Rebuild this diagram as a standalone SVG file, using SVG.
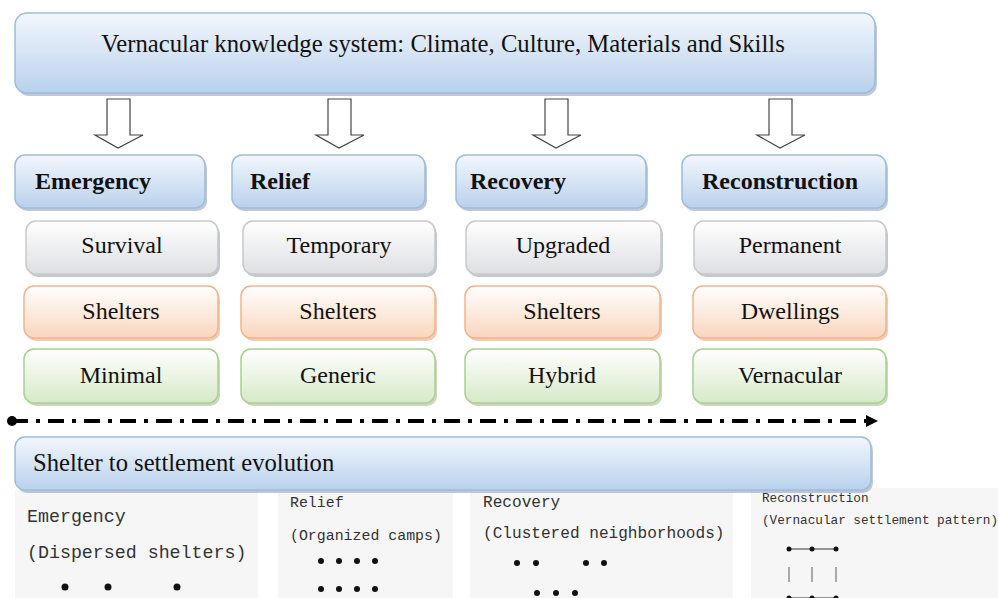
<svg xmlns="http://www.w3.org/2000/svg" width="998" height="598" viewBox="0 0 998 598">
<defs>
<linearGradient id="gBlue" x1="0" y1="0" x2="0" y2="1">
<stop offset="0" stop-color="#f3f7fc"/><stop offset="1" stop-color="#b9d1ec"/>
</linearGradient>
<linearGradient id="gGray" x1="0" y1="0" x2="0" y2="1">
<stop offset="0" stop-color="#ffffff"/><stop offset="1" stop-color="#dedfe2"/>
</linearGradient>
<linearGradient id="gOrange" x1="0" y1="0" x2="0" y2="1">
<stop offset="0" stop-color="#ffffff"/><stop offset="1" stop-color="#fad6bd"/>
</linearGradient>
<linearGradient id="gGreen" x1="0" y1="0" x2="0" y2="1">
<stop offset="0" stop-color="#ffffff"/><stop offset="1" stop-color="#d7e9c8"/>
</linearGradient>
<marker id="arrowEnd" markerWidth="12" markerHeight="12" refX="10" refY="6" orient="auto" markerUnits="userSpaceOnUse">
<path d="M0,0 L12,6 L0,12 Z" fill="#000"/>
</marker>
</defs>
<style>
.serif{font-family:"Liberation Serif","Times New Roman",serif;font-size:24px;fill:#111}
.bold{font-weight:bold}
.mono{font-family:"Liberation Mono","DejaVu Sans Mono",monospace;fill:#333}
.shadow{fill:#8a9bb0;opacity:0.55}
.blue{fill:url(#gBlue);stroke:#9dbcdc;stroke-width:1.5}
.gray{fill:url(#gGray);stroke:#c9c9c9;stroke-width:1.5}
.orange{fill:url(#gOrange);stroke:#f2b48a;stroke-width:1.5}
.green{fill:url(#gGreen);stroke:#a9cf90;stroke-width:1.5}
.barrow{fill:#fff;stroke:#444;stroke-width:1.2}
.panel{fill:#f6f6f6}
.dot{fill:#111}
</style>
<rect width="998" height="598" fill="#fff"/>

<g id="top">
<rect class="shadow" x="17" y="16" width="860" height="80" rx="12"/>
<rect class="blue" x="15" y="13" width="860" height="80" rx="12"/>
<text class="serif" x="443" y="52" text-anchor="middle" style="font-size:24.7px">Vernacular knowledge system: Climate, Culture, Materials and Skills</text>
</g>

<g id="connectors">
<path class="barrow" d="M107,99 H130 V135 H143 L118,148 L95,135 H107 Z"/>
<path class="barrow" d="M328,99 H351 V135 H364 L339,148 L316,135 H328 Z"/>
<path class="barrow" d="M545,99 H568 V135 H581 L556,148 L533,135 H545 Z"/>
<path class="barrow" d="M769,99 H792 V135 H805 L780,148 L757,135 H769 Z"/>
<circle cx="12" cy="421" r="5" fill="#000"/>
<line x1="12" y1="421" x2="876" y2="421" stroke="#000" stroke-width="4" stroke-dasharray="16 8 4 8" marker-end="url(#arrowEnd)"/>
</g>

<g id="h-emergency">
<rect class="shadow" x="17" y="158" width="190" height="53" rx="10"/>
<rect class="blue" x="15" y="155" width="190" height="53" rx="10"/>
<text class="serif bold" x="35" y="189">Emergency</text>
</g>
<g id="h-relief">
<rect class="shadow" x="234" y="158" width="193" height="53" rx="10"/>
<rect class="blue" x="232" y="155" width="193" height="53" rx="10"/>
<text class="serif bold" x="250" y="189">Relief</text>
</g>
<g id="h-recovery">
<rect class="shadow" x="458" y="158" width="190" height="53" rx="10"/>
<rect class="blue" x="456" y="155" width="190" height="53" rx="10"/>
<text class="serif bold" x="470" y="189">Recovery</text>
</g>
<g id="h-reconstruction">
<rect class="shadow" x="684" y="158" width="204" height="53" rx="10"/>
<rect class="blue" x="682" y="155" width="204" height="53" rx="10"/>
<text class="serif bold" x="702" y="189">Reconstruction</text>
</g>

<g id="r1-survival">
<rect class="shadow" x="28" y="224" width="192" height="53" rx="10"/>
<rect class="gray" x="26" y="221" width="192" height="53" rx="10"/>
<text class="serif" x="122" y="253" text-anchor="middle">Survival</text>
</g>
<g id="r1-temporary">
<rect class="shadow" x="245" y="224" width="192" height="53" rx="10"/>
<rect class="gray" x="243" y="221" width="192" height="53" rx="10"/>
<text class="serif" x="339" y="253" text-anchor="middle">Temporary</text>
</g>
<g id="r1-upgraded">
<rect class="shadow" x="468" y="224" width="195" height="53" rx="10"/>
<rect class="gray" x="466" y="221" width="195" height="53" rx="10"/>
<text class="serif" x="563" y="253" text-anchor="middle">Upgraded</text>
</g>
<g id="r1-permanent">
<rect class="shadow" x="696" y="224" width="192" height="53" rx="10"/>
<rect class="gray" x="694" y="221" width="192" height="53" rx="10"/>
<text class="serif" x="790" y="253" text-anchor="middle">Permanent</text>
</g>

<g id="r2-shelters1">
<rect class="shadow" x="26" y="289" width="194" height="52" rx="10" style="fill:#e3a37a"/>
<rect class="orange" x="24" y="286" width="194" height="52" rx="10"/>
<text class="serif" x="121" y="319" text-anchor="middle">Shelters</text>
</g>
<g id="r2-shelters2">
<rect class="shadow" x="243" y="289" width="194" height="52" rx="10" style="fill:#e3a37a"/>
<rect class="orange" x="241" y="286" width="194" height="52" rx="10"/>
<text class="serif" x="338" y="319" text-anchor="middle">Shelters</text>
</g>
<g id="r2-shelters3">
<rect class="shadow" x="467" y="289" width="195" height="52" rx="10" style="fill:#e3a37a"/>
<rect class="orange" x="465" y="286" width="195" height="52" rx="10"/>
<text class="serif" x="562" y="319" text-anchor="middle">Shelters</text>
</g>
<g id="r2-dwellings">
<rect class="shadow" x="695" y="289" width="193" height="52" rx="10" style="fill:#e3a37a"/>
<rect class="orange" x="693" y="286" width="193" height="52" rx="10"/>
<text class="serif" x="790" y="319" text-anchor="middle">Dwellings</text>
</g>

<g id="r3-minimal">
<rect class="shadow" x="26" y="352" width="194" height="54" rx="10" style="fill:#9db98a"/>
<rect class="green" x="24" y="349" width="194" height="54" rx="10"/>
<text class="serif" x="121" y="383" text-anchor="middle">Minimal</text>
</g>
<g id="r3-generic">
<rect class="shadow" x="243" y="352" width="194" height="54" rx="10" style="fill:#9db98a"/>
<rect class="green" x="241" y="349" width="194" height="54" rx="10"/>
<text class="serif" x="338" y="383" text-anchor="middle">Generic</text>
</g>
<g id="r3-hybrid">
<rect class="shadow" x="467" y="352" width="195" height="54" rx="10" style="fill:#9db98a"/>
<rect class="green" x="465" y="349" width="195" height="54" rx="10"/>
<text class="serif" x="562" y="383" text-anchor="middle">Hybrid</text>
</g>
<g id="r3-vernacular">
<rect class="shadow" x="695" y="352" width="193" height="54" rx="10" style="fill:#9db98a"/>
<rect class="green" x="693" y="349" width="193" height="54" rx="10"/>
<text class="serif" x="790" y="383" text-anchor="middle">Vernacular</text>
</g>

<g id="panel-emergency">
<rect class="panel" x="15" y="490" width="243" height="108"/>
<text class="mono" x="27" y="522" font-size="18.3">Emergency</text>
<text class="mono" x="27" y="558" font-size="18.3">(Dispersed shelters)</text>
<circle class="dot" cx="65" cy="587" r="3.5"/>
<circle class="dot" cx="108" cy="587" r="3.5"/>
<circle class="dot" cx="177" cy="587" r="3.5"/>
</g>
<g id="panel-relief">
<rect class="panel" x="278" y="493" width="175" height="105"/>
<text class="mono" x="290" y="507" font-size="14.9">Relief</text>
<text class="mono" x="290" y="540" font-size="14.9">(Organized camps)</text>
<circle class="dot" cx="321" cy="561" r="3"/>
<circle class="dot" cx="339" cy="561" r="3"/>
<circle class="dot" cx="357" cy="561" r="3"/>
<circle class="dot" cx="375" cy="561" r="3"/>
<circle class="dot" cx="321" cy="589" r="3"/>
<circle class="dot" cx="339" cy="589" r="3"/>
<circle class="dot" cx="357" cy="589" r="3"/>
<circle class="dot" cx="375" cy="589" r="3"/>
</g>
<g id="panel-recovery">
<rect class="panel" x="470" y="492" width="263" height="106"/>
<text class="mono" x="483" y="507" font-size="16.1">Recovery</text>
<text class="mono" x="483" y="538" font-size="16.1">(Clustered neighborhoods)</text>
<circle class="dot" cx="517" cy="563" r="3"/>
<circle class="dot" cx="536" cy="563" r="3"/>
<circle class="dot" cx="586" cy="563" r="3"/>
<circle class="dot" cx="604" cy="563" r="3"/>
<circle class="dot" cx="537" cy="593" r="3"/>
<circle class="dot" cx="556" cy="593" r="3"/>
<circle class="dot" cx="575" cy="593" r="3"/>
</g>
<g id="panel-reconstruction">
<rect class="panel" x="751" y="488" width="247" height="110"/>
<text class="mono" x="762" y="502" font-size="12.7">Reconstruction</text>
<text class="mono" x="762" y="524" font-size="12.7">(Vernacular settlement pattern)</text>
<line x1="789" y1="549" x2="836" y2="549" stroke="#333" stroke-width="1"/>
<circle class="dot" cx="789" cy="549" r="2.5"/>
<circle class="dot" cx="812" cy="549" r="2.5"/>
<circle class="dot" cx="836" cy="549" r="2.5"/>
<line x1="789" y1="567" x2="789" y2="582" stroke="#777" stroke-width="1.2"/>
<line x1="812" y1="567" x2="812" y2="582" stroke="#777" stroke-width="1.2"/>
<line x1="836" y1="567" x2="836" y2="582" stroke="#777" stroke-width="1.2"/>
<line x1="789" y1="598" x2="836" y2="598" stroke="#333" stroke-width="1"/>
<circle class="dot" cx="789" cy="598" r="2.5"/>
<circle class="dot" cx="812" cy="598" r="2.5"/>
<circle class="dot" cx="836" cy="598" r="2.5"/>
</g>

<g id="bottom-bar">
<rect class="shadow" x="17" y="440" width="856" height="53" rx="10"/>
<rect class="blue" x="15" y="437" width="856" height="53" rx="10"/>
<text class="serif" x="33" y="471" style="font-size:24.6px">Shelter to settlement evolution</text>
</g>
</svg>
